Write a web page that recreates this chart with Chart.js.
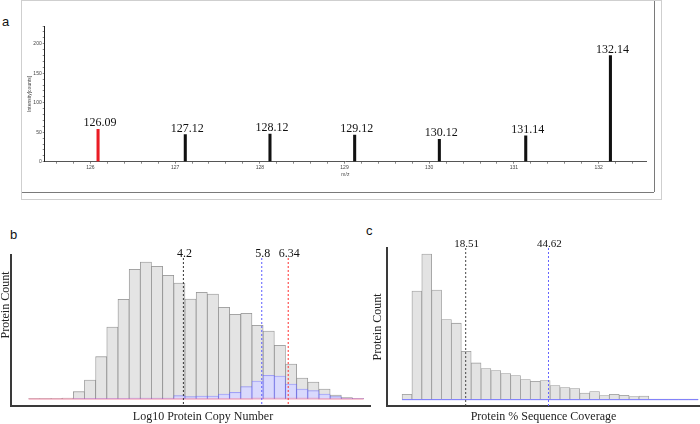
<!DOCTYPE html>
<html>
<head>
<meta charset="utf-8">
<title>Reporter ions and protein histograms</title>
<script src="https://cdn.jsdelivr.net/npm/chart.js@4.4.1/dist/chart.umd.min.js"></script>
<style>
    body { margin: 0; background: #fff; width: 700px; height: 424px; position: relative; overflow: hidden; }
    canvas { position: absolute; }
    #chartA { left: 0; top: 0; }
    #chartB { left: 0; top: 220px; }
    #chartC { left: 360px; top: 220px; }
    .frame { position: absolute; left: 21px; top: 0; width: 639px; height: 198px; border: 1px solid #cfcfcf; }
    .frame-h { position: absolute; left: 22px; top: 192px; width: 632px; border-top: 1px solid #7a7a7a; }
    .frame-v { position: absolute; left: 654px; top: 1px; height: 191px; border-left: 1px solid #7a7a7a; }
    .letter { position: absolute; font-family: "Liberation Sans", Arial, sans-serif; font-size: 13px; line-height: 13px; color: #111; }
</style>
</head>
<body>
<div class="frame"></div>
<div class="frame-h"></div>
<div class="frame-v"></div>
<div class="letter" style="left:2px; top:15px;">a</div>
<div class="letter" style="left:10px; top:228px;">b</div>
<div class="letter" style="left:366px; top:224px;">c</div>
<canvas id="chartA" width="700" height="200"></canvas>
<canvas id="chartB" width="380" height="204"></canvas>
<canvas id="chartC" width="340" height="204"></canvas>
<script>
// Panel a: reporter ion peaks
const aMz = [126.09, 127.12, 128.12, 129.12, 130.12, 131.14, 132.14];
const aIntensity = [55, 46, 47, 45, 38, 44, 180];

// Panel b: log10 protein copy number histogram (all / blue subset / pink subset)
const bBinStart = 1.04;
const bBinWidth = 0.228;
const bAll = [1, 1, 2, 3, 22, 57, 127, 216, 299, 389, 411, 398, 371, 348, 300, 320, 315, 275, 254, 257, 221, 204, 161, 105, 63, 51, 30, 12, 4, 1];
const bBlue = [0, 0, 0, 0, 1, 2, 2, 2, 2, 3, 3, 3, 3, 10, 7, 9, 9, 15, 20, 37, 54, 71, 69, 45, 30, 25, 15, 7, 2, 1];
const bPink = [0, 0, 0, 0, 0, 0, 0, 0, 0, 0, 0, 0, 0, 0, 0, 0, 0, 0, 0, 0, 1, 1, 1, 1, 1, 1, 0, 0, 0, 0];
const bMarkers = [4.2, 5.8, 6.34];

// Panel c: sequence coverage histogram
const cBinStart = -1.56;
const cBinWidth = 3.113;
const cAll = [16, 325, 436, 328, 240, 229, 145, 110, 93, 87, 78, 72, 60, 55, 57, 42, 36, 33, 20, 24, 12, 16, 13, 9, 11, 2, 2, 2, 2, 2];
const cBlue = [0, 0, 0, 0, 0, 0, 0, 0, 0, 0, 0, 0, 0, 0, 0, 0, 0, 0, 0, 0, 0, 0, 0, 0, 0, 0, 0, 0, 0, 0];
const cMarkers = [18.51, 44.62];

const SERIF = '"Liberation Serif", "Times New Roman", serif';
Chart.defaults.font.family = SERIF;

function binCenters(counts, start, width) {
    return counts.map(function(_, i) { return start + width * (i + 0.5); });
}

function histPoints(counts, start, width) {
    const centers = binCenters(counts, start, width);
    return counts.map(function(v, i) { return { x: centers[i], y: v }; });
}

// outline of a histogram as a step line
function stepPoints(counts, start, width) {
    const pts = [];
    counts.forEach(function(v, i) {
        pts.push({ x: start + width * i, y: v });
        pts.push({ x: start + width * (i + 1), y: v });
    });
    return pts;
}

// two ticks only, so the bar ruler uses the bin spacing
function edgeTicks(scale) {
    scale.ticks = [{ value: scale.min }, { value: scale.max }];
}

// dotted vertical lines with their value written on top
const markerLines = {
    id: 'markerLines',
    afterDatasetsDraw(chart, args, opts) {
        const ctx = chart.ctx;
        const xs = chart.scales.x;
        const area = chart.chartArea;
        opts.values.forEach(function(v, i) {
            const px = xs.getPixelForValue(v);
            const top = area.top + opts.gap;
            ctx.save();
            ctx.strokeStyle = opts.colors[i];
            ctx.lineWidth = 1;
            ctx.setLineDash([2, 2]);
            ctx.beginPath();
            ctx.moveTo(px, top);
            ctx.lineTo(px, area.bottom);
            ctx.stroke();
            ctx.setLineDash([]);
            ctx.fillStyle = '#111';
            ctx.font = opts.fontSize + 'px ' + SERIF;
            ctx.textAlign = 'center';
            ctx.textBaseline = 'alphabetic';
            ctx.fillText(String(v), px + 1, top - 1);
            ctx.restore();
        });
    }
};

const peakLabels = {
    id: 'peakLabels',
    afterDatasetsDraw(chart) {
        const ctx = chart.ctx;
        const meta = chart.getDatasetMeta(0);
        ctx.save();
        ctx.font = '12px ' + SERIF;
        ctx.fillStyle = '#111';
        ctx.textAlign = 'center';
        meta.data.forEach(function(bar, i) {
            ctx.fillText(aMz[i].toFixed(2), bar.x + 2, bar.y - 3);
        });
        ctx.restore();
    }
};

// panel b titles sit off-centre in the original
const bTitles = {
    id: 'bTitles',
    afterDraw(chart) {
        const ctx = chart.ctx;
        ctx.save();
        ctx.font = '12px ' + SERIF;
        ctx.fillStyle = '#222';
        ctx.textAlign = 'center';
        ctx.textBaseline = 'middle';
        ctx.fillText('Log10 Protein Copy Number', 203, 197);
        ctx.translate(6, 85);
        ctx.rotate(-Math.PI / 2);
        ctx.fillText('Protein Count', 0, 0);
        ctx.restore();
    }
};

const noLegend = { legend: { display: false }, tooltip: { enabled: false } };

// ---- panel a
new Chart(document.getElementById('chartA'), {
    type: 'bar',
    data: {
        datasets: [{
            data: aMz.map(function(m, i) { return { x: m, y: aIntensity[i] }; }),
            backgroundColor: aMz.map(function(m, i) { return i === 0 ? '#ea1c24' : '#111111'; }),
            barThickness: 2.4
        }]
    },
    options: {
        responsive: false,
        animation: false,
        layout: { padding: { left: 27, top: 26, right: 54, bottom: 22 } },
        plugins: noLegend,
        scales: {
            x: {
                type: 'linear', min: 125.46, max: 132.56, offset: false,
                ticks: {
                    stepSize: 0.2, includeBounds: false, autoSkip: false, maxRotation: 0,
                    font: { size: 5, family: '"Liberation Sans", Arial, sans-serif' }, color: '#444', padding: 1,
                    callback: function(v) { return Math.abs(v - Math.round(v)) < 1e-6 ? String(Math.round(v)) : ''; }
                },
                grid: { drawOnChartArea: false, tickLength: 2, color: '#888', offset: false },
                border: { color: '#555', width: 1 },
                title: { display: true, text: 'm/z', font: { size: 5, family: '"Liberation Sans", Arial, sans-serif' }, color: '#444', padding: 0 },
                afterFit: function(s) { s.height = 16.3; }
            },
            y: {
                min: 0, max: 230,
                ticks: {
                    stepSize: 10, includeBounds: false, autoSkip: false,
                    font: { size: 5, family: '"Liberation Sans", Arial, sans-serif' }, color: '#444', padding: 1,
                    callback: function(v) { return v % 50 === 0 ? String(v) : ''; }
                },
                grid: { drawOnChartArea: false, tickLength: 2, color: '#888' },
                border: { color: '#222', width: 1 },
                title: { display: true, text: 'Intensity[counts]', font: { size: 5, family: '"Liberation Sans", Arial, sans-serif' }, color: '#444', padding: 0 },
                afterFit: function(s) { s.width = 17.7; }
            }
        }
    },
    plugins: [peakLabels]
});

// ---- panel b
new Chart(document.getElementById('chartB'), {
    type: 'bar',
    data: {
        datasets: [
            {
                data: histPoints(bAll, bBinStart, bBinWidth),
                backgroundColor: '#e4e4e4', borderColor: '#909090', borderWidth: 0.8,
                grouped: false, barPercentage: 1, categoryPercentage: 1, order: 3
            },
            {
                data: histPoints(bBlue, bBinStart, bBinWidth),
                backgroundColor: 'rgba(215,215,255,0.9)', borderColor: 'rgba(90,90,255,0.6)', borderWidth: 0.8,
                grouped: false, barPercentage: 1, categoryPercentage: 1, order: 2
            },
            {
                type: 'line',
                data: stepPoints(bPink, bBinStart, bBinWidth),
                borderColor: 'rgba(235,120,150,0.45)', borderWidth: 2, pointRadius: 0, order: 1
            }
        ]
    },
    options: {
        responsive: false,
        animation: false,
        layout: { padding: { left: 0, top: 35, right: 10, bottom: 0 } },
        plugins: Object.assign({
            markerLines: { values: bMarkers, colors: ['#333', '#5c5cff', '#ff3030'], gap: 3, fontSize: 12 }
        }, noLegend),
        scales: {
            x: {
                type: 'linear', min: 0.68, max: 8.01, offset: false,
                grid: { display: false }, ticks: { display: false },
                border: { color: '#3a3a3a', width: 2 },
                afterBuildTicks: edgeTicks,
                afterFit: function(s) { s.height = 18; }
            },
            y: {
                min: -21, max: 432,
                grid: { display: false }, ticks: { display: false },
                border: { color: '#3a3a3a', width: 2 },
                afterBuildTicks: edgeTicks,
                afterFit: function(s) { s.width = 11; }
            }
        }
    },
    plugins: [markerLines, bTitles]
});

// ---- panel c
new Chart(document.getElementById('chartC'), {
    type: 'bar',
    data: {
        datasets: [
            {
                data: histPoints(cAll, cBinStart, cBinWidth),
                backgroundColor: '#e3e3e3', borderColor: '#9a9a9a', borderWidth: 0.8,
                grouped: false, barPercentage: 1, categoryPercentage: 1, order: 2
            },
            {
                type: 'line',
                data: stepPoints(cBlue, cBinStart, cBinWidth),
                borderColor: '#7474ff', borderWidth: 1, pointRadius: 0, order: 1
            }
        ]
    },
    options: {
        responsive: false,
        animation: false,
        layout: { padding: { left: 12, top: 28, right: 0, bottom: 0 } },
        plugins: Object.assign({
            markerLines: { values: cMarkers, colors: ['#444', '#6464ff'], gap: 0, fontSize: 11 }
        }, noLegend),
        scales: {
            x: {
                type: 'linear', min: -6.31, max: 92.4, offset: false,
                grid: { display: false }, ticks: { display: false },
                border: { color: '#3a3a3a', width: 2 },
                title: { display: true, text: 'Protein % Sequence Coverage', font: { size: 12 }, color: '#222', padding: 0 },
                afterBuildTicks: edgeTicks,
                afterFit: function(s) { s.height = 18; }
            },
            y: {
                min: -19, max: 454,
                grid: { display: false }, ticks: { display: false },
                border: { color: '#3a3a3a', width: 2 },
                title: { display: true, text: 'Protein Count', font: { size: 12, lineHeight: 1 }, color: '#222', padding: 0 },
                afterBuildTicks: edgeTicks,
                afterFit: function(s) { s.width = 15; }
            }
        }
    },
    plugins: [markerLines]
});
</script>
</body>
</html>
